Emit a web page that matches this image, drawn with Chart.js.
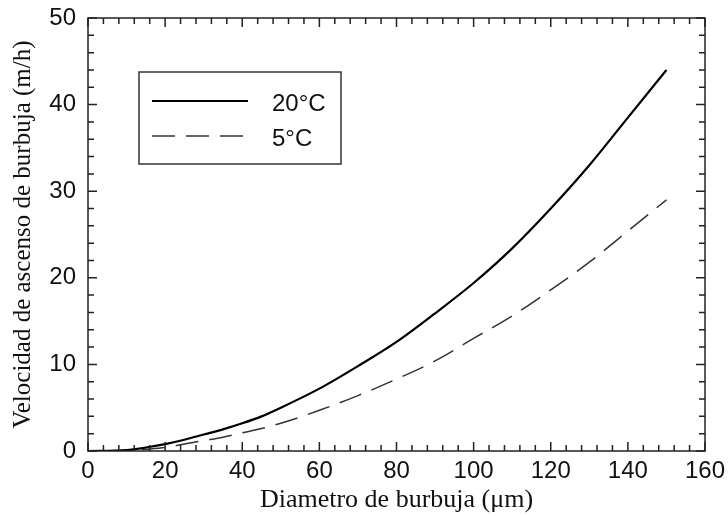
<!DOCTYPE html>
<html>
<head>
<meta charset="utf-8">
<script src="https://cdn.jsdelivr.net/npm/chart.js@4"></script>
<style>
  html, body { margin: 0; padding: 0; background: #fff; }
  #wrap { width: 728px; height: 516px; }
</style>
</head>
<body>
<div id="wrap"><canvas id="graph"></canvas></div>
<script>
const diametro = [0, 10, 15, 20, 25, 30, 35, 40, 45, 50, 60, 70, 80, 90, 100, 110, 120, 130, 140, 150];
const vel20 = [0, 0.1, 0.4, 0.8, 1.3, 1.9, 2.5, 3.2, 4.0, 5.0, 7.2, 9.8, 12.6, 15.9, 19.4, 23.4, 28.0, 33.0, 38.5, 44.0];
const vel5 = [0, 0.05, 0.2, 0.4, 0.8, 1.2, 1.6, 2.1, 2.6, 3.2, 4.7, 6.4, 8.3, 10.4, 13.0, 15.6, 18.6, 21.8, 25.4, 29.0];
const seriesLabels = ["20°C", "5°C"];
const xTicks = [0, 20, 40, 60, 80, 100, 120, 140, 160];
const yTicks = [0, 10, 20, 30, 40, 50];

const graphRef = document.getElementById("graph");

function toPoints(xs, ys) {
    return xs.map((x, i) => ({x: x, y: ys[i]}));
}

// frame with inward ticks on all sides, like the original plot
const frameTicks = {
    id: "frameTicks",
    afterDraw(chart) {
        const {ctx, chartArea: a, scales} = chart;
        ctx.save();
        ctx.strokeStyle = "#222";
        ctx.lineWidth = 1.5;
        ctx.strokeRect(a.left, a.top, a.right - a.left, a.bottom - a.top);
        ctx.beginPath();
        for (let v = 0; v <= 160; v += 4) {
            const px = scales.x.getPixelForValue(v);
            const len = v % 20 === 0 ? 9 : 6;
            ctx.moveTo(px, a.bottom); ctx.lineTo(px, a.bottom - len);
            ctx.moveTo(px, a.top); ctx.lineTo(px, a.top + len);
        }
        for (let v = 0; v <= 50; v += 2) {
            const py = scales.y.getPixelForValue(v);
            const len = v % 10 === 0 ? 9 : 6;
            ctx.moveTo(a.left, py); ctx.lineTo(a.left + len, py);
            ctx.moveTo(a.right, py); ctx.lineTo(a.right - len, py);
        }
        ctx.stroke();
        ctx.restore();
    }
};

// boxed legend inside the plot
const boxLegend = {
    id: "boxLegend",
    afterDraw(chart) {
        const {ctx} = chart;
        const bx = 139, by = 72, bw = 202, bh = 92;
        ctx.save();
        ctx.strokeStyle = "#333";
        ctx.lineWidth = 1.5;
        ctx.strokeRect(bx, by, bw, bh);
        chart.data.datasets.forEach((ds, i) => {
            const y = 101 + i * 35;
            ctx.beginPath();
            ctx.strokeStyle = ds.borderColor;
            ctx.lineWidth = ds.borderWidth;
            ctx.setLineDash(ds.borderDash || []);
            ctx.moveTo(152, y);
            ctx.lineTo(ds.borderDash ? 252 : 248, y);
            ctx.stroke();
            ctx.setLineDash([]);
            ctx.fillStyle = "#111";
            ctx.font = "24px 'Liberation Sans', Arial, sans-serif";
            ctx.textBaseline = "middle";
            ctx.fillText(ds.label, 272, y + 3);
        });
        ctx.restore();
    }
};

const chart = new Chart(graphRef, {
    type: "line",
    data: {
        datasets: [
            {label: seriesLabels[0], data: toPoints(diametro, vel20), borderColor: "#000", borderWidth: 2.2},
            {label: seriesLabels[1], data: toPoints(diametro, vel5), borderColor: "#333", borderWidth: 1.5, borderDash: [23, 11], borderDashOffset: 14},
        ],
    },
    options: {
        responsive: true,
        maintainAspectRatio: false,
        animation: false,
        events: [],
        elements: {
            point: {radius: 0},
            line: {tension: 0.4, cubicInterpolationMode: "monotone"},
        },
        layout: {padding: {top: 18, right: 23, left: 8, bottom: 0}},
        plugins: {legend: {display: false}, tooltip: {enabled: false}},
        scales: {
            x: {
                type: "linear",
                min: 0,
                max: 160,
                afterBuildTicks: (s) => { s.ticks = xTicks.map(v => ({value: v})); },
                afterFit: (s) => { s.height = 65; s.paddingRight = 0; s.paddingLeft = 0; },
                grid: {display: false, drawTicks: false},
                border: {display: false},
                ticks: {color: "#111", padding: 6, maxRotation: 0, font: {family: "'Liberation Sans', Arial, sans-serif", size: 24}},
                title: {display: true, text: "Diametro de burbuja (μm)", color: "#111", padding: {top: 2, bottom: 0}, font: {family: "'Liberation Serif', 'Times New Roman', serif", size: 26}},
            },
            y: {
                min: 0,
                max: 50,
                afterBuildTicks: (s) => { s.ticks = yTicks.map(v => ({value: v})); },
                afterFit: (s) => { s.width = 80; s.paddingTop = 0; s.paddingBottom = 0; },
                grid: {display: false, drawTicks: false},
                border: {display: false},
                ticks: {color: "#111", padding: 12, font: {family: "'Liberation Sans', Arial, sans-serif", size: 24}},
                title: {display: true, text: "Velocidad de ascenso de burbuja (m/h)", color: "#111", padding: {top: 0, bottom: 0}, font: {family: "'Liberation Serif', 'Times New Roman', serif", size: 25}},
            },
        },
    },
    plugins: [frameTicks, boxLegend],
});
</script>
</body>
</html>
